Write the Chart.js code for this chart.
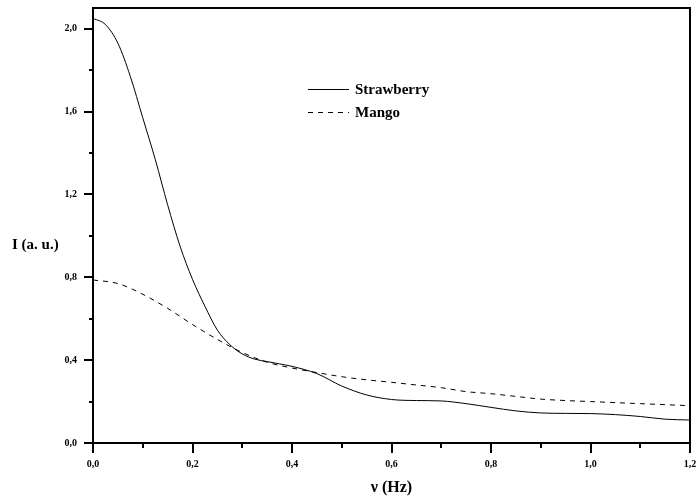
<!DOCTYPE html>
<html>
<head>
<meta charset="utf-8">
<script src="https://cdn.jsdelivr.net/npm/chart.js@4"></script>
<style>
  html, body { margin: 0; padding: 0; background: #fff; }
  #wrap { width: 696px; height: 498px; }
</style>
</head>
<body>
<div id="wrap"><canvas id="spectrum" width="696" height="498"></canvas></div>
<script>
// data
const strawFreq = [0, 0.025, 0.05, 0.075, 0.1, 0.125, 0.15, 0.175, 0.2, 0.225, 0.25, 0.275, 0.3, 0.325, 0.35, 0.375, 0.4,
    0.45, 0.5, 0.55, 0.6, 0.65, 0.7, 0.75, 0.8, 0.85, 0.9, 0.95, 1.0, 1.05, 1.1, 1.15, 1.2];
const strawberry = [2.05, 2.02, 1.93, 1.77, 1.57, 1.37, 1.15, 0.95, 0.79, 0.66, 0.545, 0.475, 0.43, 0.405, 0.393, 0.382, 0.37,
    0.335, 0.275, 0.232, 0.21, 0.205, 0.203, 0.19, 0.172, 0.155, 0.145, 0.143, 0.142, 0.137, 0.128, 0.115, 0.111];

const mangoFreq = [0, 0.05, 0.1, 0.15, 0.2, 0.25, 0.3, 0.35, 0.4, 0.45, 0.5, 0.55, 0.6, 0.65, 0.7, 0.75, 0.8, 0.85, 0.9,
    0.95, 1.0, 1.05, 1.1, 1.15, 1.2];
const mango = [0.787, 0.77, 0.718, 0.65, 0.572, 0.5, 0.437, 0.39, 0.362, 0.34, 0.32, 0.305, 0.293, 0.28, 0.267, 0.248,
    0.238, 0.225, 0.212, 0.205, 0.2, 0.195, 0.19, 0.185, 0.18];

const xTicks = [0, 0.2, 0.4, 0.6, 0.8, 1.0, 1.2];
const xMinorTicks = [0.1, 0.3, 0.5, 0.7, 0.9, 1.1];
const yTicks = [0, 0.4, 0.8, 1.2, 1.6, 2.0];
const yMinorTicks = [0.2, 0.6, 1.0, 1.4, 1.8];

const serif = "'Liberation Serif', 'Times New Roman', serif";
const mangoDash = [5, 5];

function toPoints(xs, ys) {
    return xs.map((x, i) => ({ x: x, y: ys[i] }));
}

function commaLabel(v) {
    return Number(v).toFixed(1).replace('.', ',');
}

// keep the plot box fixed, labels may hang over the edges
function noLabelPadding(scale) {
    scale.paddingLeft = 0;
    scale.paddingRight = 0;
    scale.paddingTop = 0;
    scale.paddingBottom = 0;
}

// frame, tick marks, axis titles and legend like the original plot
const decorPlugin = {
    id: 'decor',
    afterDraw(chart) {
        const ctx = chart.ctx;
        const area = chart.chartArea;
        const xs = chart.scales.x;
        const ys = chart.scales.y;
        ctx.save();
        ctx.strokeStyle = '#000';

        ctx.lineWidth = 2;
        ctx.strokeRect(area.left, area.top, area.right - area.left, area.bottom - area.top);

        ctx.beginPath();
        xTicks.forEach(v => {
            const px = Math.round(xs.getPixelForValue(v));
            ctx.moveTo(px, area.bottom);
            ctx.lineTo(px, area.bottom + 10);
        });
        xMinorTicks.forEach(v => {
            const px = Math.round(xs.getPixelForValue(v));
            ctx.moveTo(px, area.bottom);
            ctx.lineTo(px, area.bottom + 5);
        });
        yTicks.forEach(v => {
            const py = Math.round(ys.getPixelForValue(v));
            ctx.moveTo(area.left, py);
            ctx.lineTo(area.left - 9, py);
        });
        yMinorTicks.forEach(v => {
            const py = Math.round(ys.getPixelForValue(v));
            ctx.moveTo(area.left, py);
            ctx.lineTo(area.left - 4, py);
        });
        ctx.stroke();

        ctx.fillStyle = '#000';
        ctx.textBaseline = 'middle';
        ctx.font = 'bold 15px ' + serif;
        ctx.textAlign = 'left';
        ctx.fillText('I (a. u.)', 12, 245);
        ctx.font = 'bold 16px ' + serif;
        ctx.textAlign = 'center';
        ctx.fillText('\u03bd (Hz)', (area.left + area.right) / 2, 488);

        // legend
        ctx.lineWidth = 1;
        ctx.beginPath();
        ctx.moveTo(308, 89.5);
        ctx.lineTo(349, 89.5);
        ctx.stroke();
        ctx.setLineDash(mangoDash);
        ctx.beginPath();
        ctx.moveTo(308, 112.5);
        ctx.lineTo(349, 112.5);
        ctx.stroke();
        ctx.setLineDash([]);
        ctx.font = 'bold 15px ' + serif;
        ctx.textAlign = 'left';
        ctx.fillText('Strawberry', 355, 90);
        ctx.fillText('Mango', 355, 113);
        ctx.restore();
    }
};

const spectrumCtx = document.getElementById('spectrum');

new Chart(spectrumCtx, {
    type: 'line',
    data: {
        datasets: [
            {
                label: 'Strawberry',
                data: toPoints(strawFreq, strawberry),
                borderColor: '#000',
                borderWidth: 1,
                pointRadius: 0,
                cubicInterpolationMode: 'monotone',
                fill: false
            },
            {
                label: 'Mango',
                data: toPoints(mangoFreq, mango),
                borderColor: '#000',
                borderWidth: 1,
                borderDash: mangoDash,
                pointRadius: 0,
                cubicInterpolationMode: 'monotone',
                fill: false
            }
        ]
    },
    options: {
        responsive: false,
        animation: false,
        devicePixelRatio: 1,
        layout: {
            padding: { top: 8, right: 6, left: 0, bottom: 0 }
        },
        plugins: {
            legend: { display: false },
            tooltip: { enabled: false }
        },
        scales: {
            x: {
                type: 'linear',
                min: 0,
                max: 1.2,
                afterFit: scale => { scale.height = 55; noLabelPadding(scale); },
                afterBuildTicks: scale => { scale.ticks = xTicks.map(v => ({ value: v })); },
                grid: { display: false, drawTicks: false },
                border: { display: false },
                ticks: {
                    padding: 15,
                    color: '#000',
                    maxRotation: 0,
                    font: { family: serif, size: 10, weight: 'bold' },
                    callback: v => commaLabel(v)
                }
            },
            y: {
                min: 0,
                max: 2.1,
                afterFit: scale => { scale.width = 93; noLabelPadding(scale); },
                afterBuildTicks: scale => { scale.ticks = yTicks.map(v => ({ value: v })); },
                grid: { display: false, drawTicks: false },
                border: { display: false },
                ticks: {
                    padding: 16,
                    color: '#000',
                    font: { family: serif, size: 10, weight: 'bold' },
                    callback: v => commaLabel(v)
                }
            }
        }
    },
    plugins: [decorPlugin]
});
</script>
</body>
</html>
